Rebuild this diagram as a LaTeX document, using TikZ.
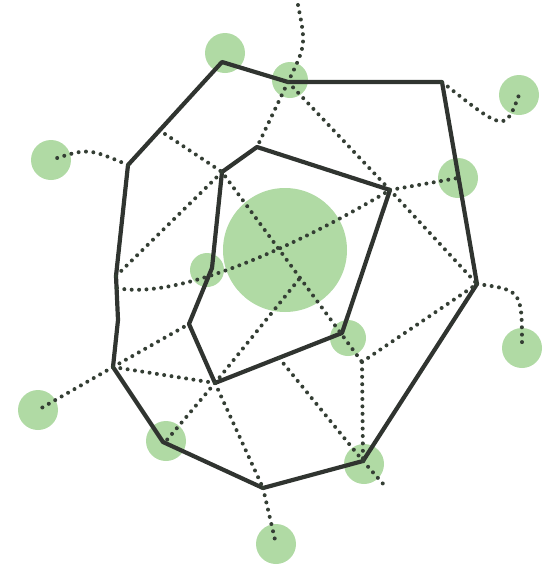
\documentclass[tikz,border=0pt]{standalone}
\usepackage{tikz}
\usetikzlibrary{positioning,calc}
\definecolor{leaf}{RGB}{176,218,164}
\definecolor{ink}{RGB}{48,52,48}
\definecolor{dotink}{RGB}{52,62,52}
\tikzset{
  spot/.style={circle,fill=leaf,inner sep=0pt,minimum size=40pt},
  bigspot/.style={spot,minimum size=124pt},
  ring/.style={draw=ink,line width=4.2pt,line join=round},
  link/.style={draw=dotink,line width=4pt,line cap=round,dash pattern=on 0pt off 7.4pt}
}

\begin{document}
\begin{tikzpicture}[x=1pt,y=-1pt]
\useasboundingbox (0,0) rectangle (555,579);

% green spots
\node[bigspot] (core) at (285,250) {};
\node[spot] (g1) at (225,53) {};
\node[spot,minimum size=36pt] (g2) at (290,80) {};
\node[spot] (g3) at (519,95) {};
\node[spot] (g4) at (51,160) {};
\node[spot] (g5) at (458,178) {};
\node[spot,minimum size=34pt] (g6) at (207,270) {};
\node[spot,minimum size=36pt] (g7) at (348,338) {};
\node[spot] (g8) at (522,348) {};
\node[spot] (g9) at (38,410) {};
\node[spot] (g10) at (166,441) {};
\node[spot] (g11) at (364,464) {};
\node[spot] (g12) at (276,544) {};

% outer ring
\coordinate (o1) at (222,62);
\coordinate (ot) at (288,82);
\coordinate (o2) at (442,82);
\coordinate (o3) at (477,284);
\coordinate (o4) at (363,461);
\coordinate (o5) at (263,488);
\coordinate (o6) at (163,442);
\coordinate (o7) at (113,367);
\coordinate (o8) at (118,320);
\coordinate (o9) at (116,276);
\coordinate (o10) at (128,165);

% inner ring
\coordinate (i1) at (257,147);
\coordinate (i2) at (390,190);
\coordinate (i3) at (342,333);
\coordinate (i4) at (215,383);
\coordinate (i5) at (189,324);
\coordinate (i6) at (212,268);
\coordinate (i7) at (222,172);

% loose ends
\coordinate (top) at (298,5);
\coordinate (f1) at (165,134);
\coordinate (j) at (362,362);
\coordinate (e1) at (279,358);
\coordinate (tail) at (385,486);
\coordinate (l1) at (117,288);
\coordinate (d1) at (300,278);

\draw[ring] (o1) -- (ot) -- (o2) -- (o3) -- (o4) -- (o5) -- (o6) -- (o7) -- (o8) -- (o9) -- (o10) -- cycle;
\draw[ring] (i1) -- (i2) -- (i3) -- (i4) -- (i5) -- (i6) -- (i7) -- cycle;

\draw[link] (top) .. controls (306,45) .. (ot);
\draw[link] (ot) -- (i1);
\draw[link] (ot) -- (i2) -- (o3);
\draw[link] (o2) .. controls (505,132) .. (g3.center);
\draw[link] (i2) -- (g5.center);
\draw[link] (f1) -- (i7) -- (j);
\draw[link] (j) -- (o3);
\draw[link] (j) -- (o4);
\draw[link] (e1) -- (o4) -- (tail);
\draw[link] (o9) -- (i7);
\draw[link] (l1) .. controls (175,300) and (290,250) .. (i2);
\draw[link] (o7) -- (i5);
\draw[link] (o7) -- (i4);
\draw[link] (o7) -- (g9.center);
\draw[link] (i4) -- (g10.center);
\draw[link] (i4) -- (o5);
\draw[link] (i4) -- (d1);
\draw[link] (o5) -- (g12.center);
\draw[link] (o3) .. controls (522,290) .. (g8.center);
\draw[link] (o10) .. controls (88,148) .. (g4.center);

\end{tikzpicture}
\end{document}
